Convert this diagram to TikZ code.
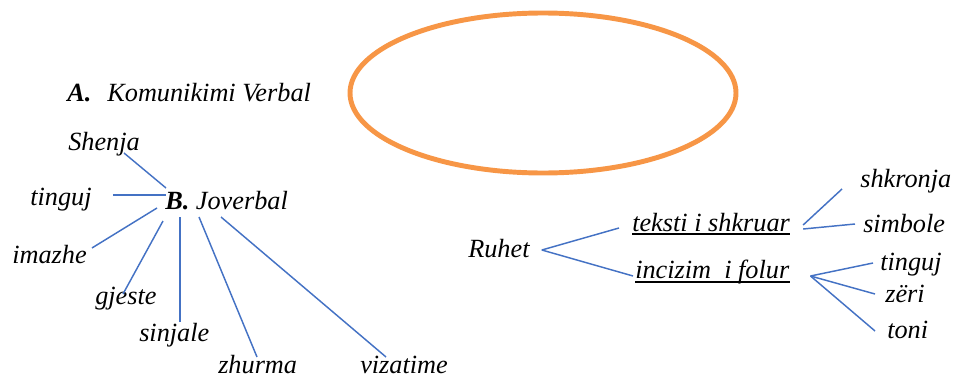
\documentclass[tikz,border=0pt]{standalone}
\usepackage{fontspec}
\setmainfont{Liberation Serif}
\usetikzlibrary{calc}
\definecolor{linkblue}{HTML}{4472C4}
\definecolor{ovalorange}{HTML}{F79646}
\tikzset{
    word/.style={font=\fontsize{19.7}{23}\selectfont\itshape, inner sep=0pt, anchor=base west},
    link/.style={draw=linkblue, line width=1.1pt},
    uline/.style={draw=black, line width=1.5pt},
}
\begin{document}
\begin{tikzpicture}[x=0.75pt, y=-0.75pt]
        \useasboundingbox ( 0, 0 ) rectangle ( 955, 378 );

        % овал
        \draw [ovalorange, line width=3.7pt] ( 543, 93 ) ellipse [x radius=193, y radius=80];

        % заголовки
        \node [word] (A) at ( 67, 101 ) {\textbf{A.}\hspace{12pt}Komunikimi Verbal};
        \node [word] (B) at ( 165, 209 ) {\textbf{B.} Joverbal};

        % левые слова
        \node [word] (shenja) at ( 68, 150 ) {Shenja};
        \node [word] (tingujL) at ( 30, 205 ) {tinguj};
        \node [word] (imazhe) at ( 12, 263 ) {imazhe};
        \node [word] (gjeste) at ( 95, 304 ) {gjeste};
        \node [word] (sinjale) at ( 139, 341 ) {sinjale};
        \node [word] (zhurma) at ( 218, 373 ) {zhurma};
        \node [word] (vizatime) at ( 360, 373 ) {vizatime};

        % правые слова
        \node [word] (ruhet) at ( 468, 257 ) {Ruhet};
        \node [word] (teksti) at ( 632, 231 ) {teksti i shkruar};
        \node [word] (incizim) at ( 635, 278 ) {incizim\ \ i folur};
        \node [word] (shkronja) at ( 860, 187 ) {shkronja};
        \node [word] (simbole) at ( 863, 232 ) {simbole};
        \node [word] (tingujR) at ( 880, 270 ) {tinguj};
        \node [word] (zeri) at ( 885, 302 ) {zëri};
        \node [word] (toni) at ( 887, 338 ) {toni};

        % подчёркивания
        \draw [uline] ( $(teksti.base west) + (0, 3)$ ) -- ( $(teksti.base east) + (0, 3)$ );
        \draw [uline] ( $(incizim.base west) + (0, 4)$ ) -- ( $(incizim.base east) + (0, 4)$ );

        % линии к B
        \draw [link] ( $(shenja.base west) + (56, 3)$ ) -- ( $(B.base west) + (1, -21)$ );
        \draw [link] ( $(tingujL.base east) + (21, -10)$ ) -- ( $(B.base west) + (1, -14)$ );
        \draw [link] ( $(imazhe.base east) + (5, -15)$ ) -- ( $(B.base west) + (-8, -1)$ );
        \draw [link] ( $(gjeste.base west) + (28, -10)$ ) -- ( $(B.base west) + (-2, 12)$ );
        \draw [link] ( $(sinjale.base west) + (41, -19)$ ) -- ( $(B.base west) + (15, 8)$ );
        \draw [link] ( $(zhurma.base west) + (39, -16)$ ) -- ( $(B.base west) + (34, 8)$ );
        \draw [link] ( $(vizatime.base west) + (26, -16)$ ) -- ( $(B.base west) + (56, 8)$ );

        % линии от Ruhet
        \draw [link] ( $(ruhet.base east) + (12, -7)$ ) -- ( $(teksti.base west) + (-13, -3)$ );
        \draw [link] ( $(ruhet.base east) + (12, -7)$ ) -- ( $(incizim.base west) + (-2, -2)$ );
        \draw [link] ( $(teksti.base east) + (13, -6)$ ) -- ( $(shkronja.base west) + (-18, 2)$ );
        \draw [link] ( $(teksti.base east) + (13, -2)$ ) -- ( $(simbole.base west) + (-8, -8)$ );
        \draw [link] ( $(incizim.base east) + (21, -2)$ ) -- ( $(tingujR.base west) + (-7, -7)$ );
        \draw [link] ( $(incizim.base east) + (21, -2)$ ) -- ( $(zeri.base west) + (-10, -8)$ );
        \draw [link] ( $(incizim.base east) + (21, -2)$ ) -- ( $(toni.base west) + (-12, -7)$ );
    \end{tikzpicture}
\end{document}
